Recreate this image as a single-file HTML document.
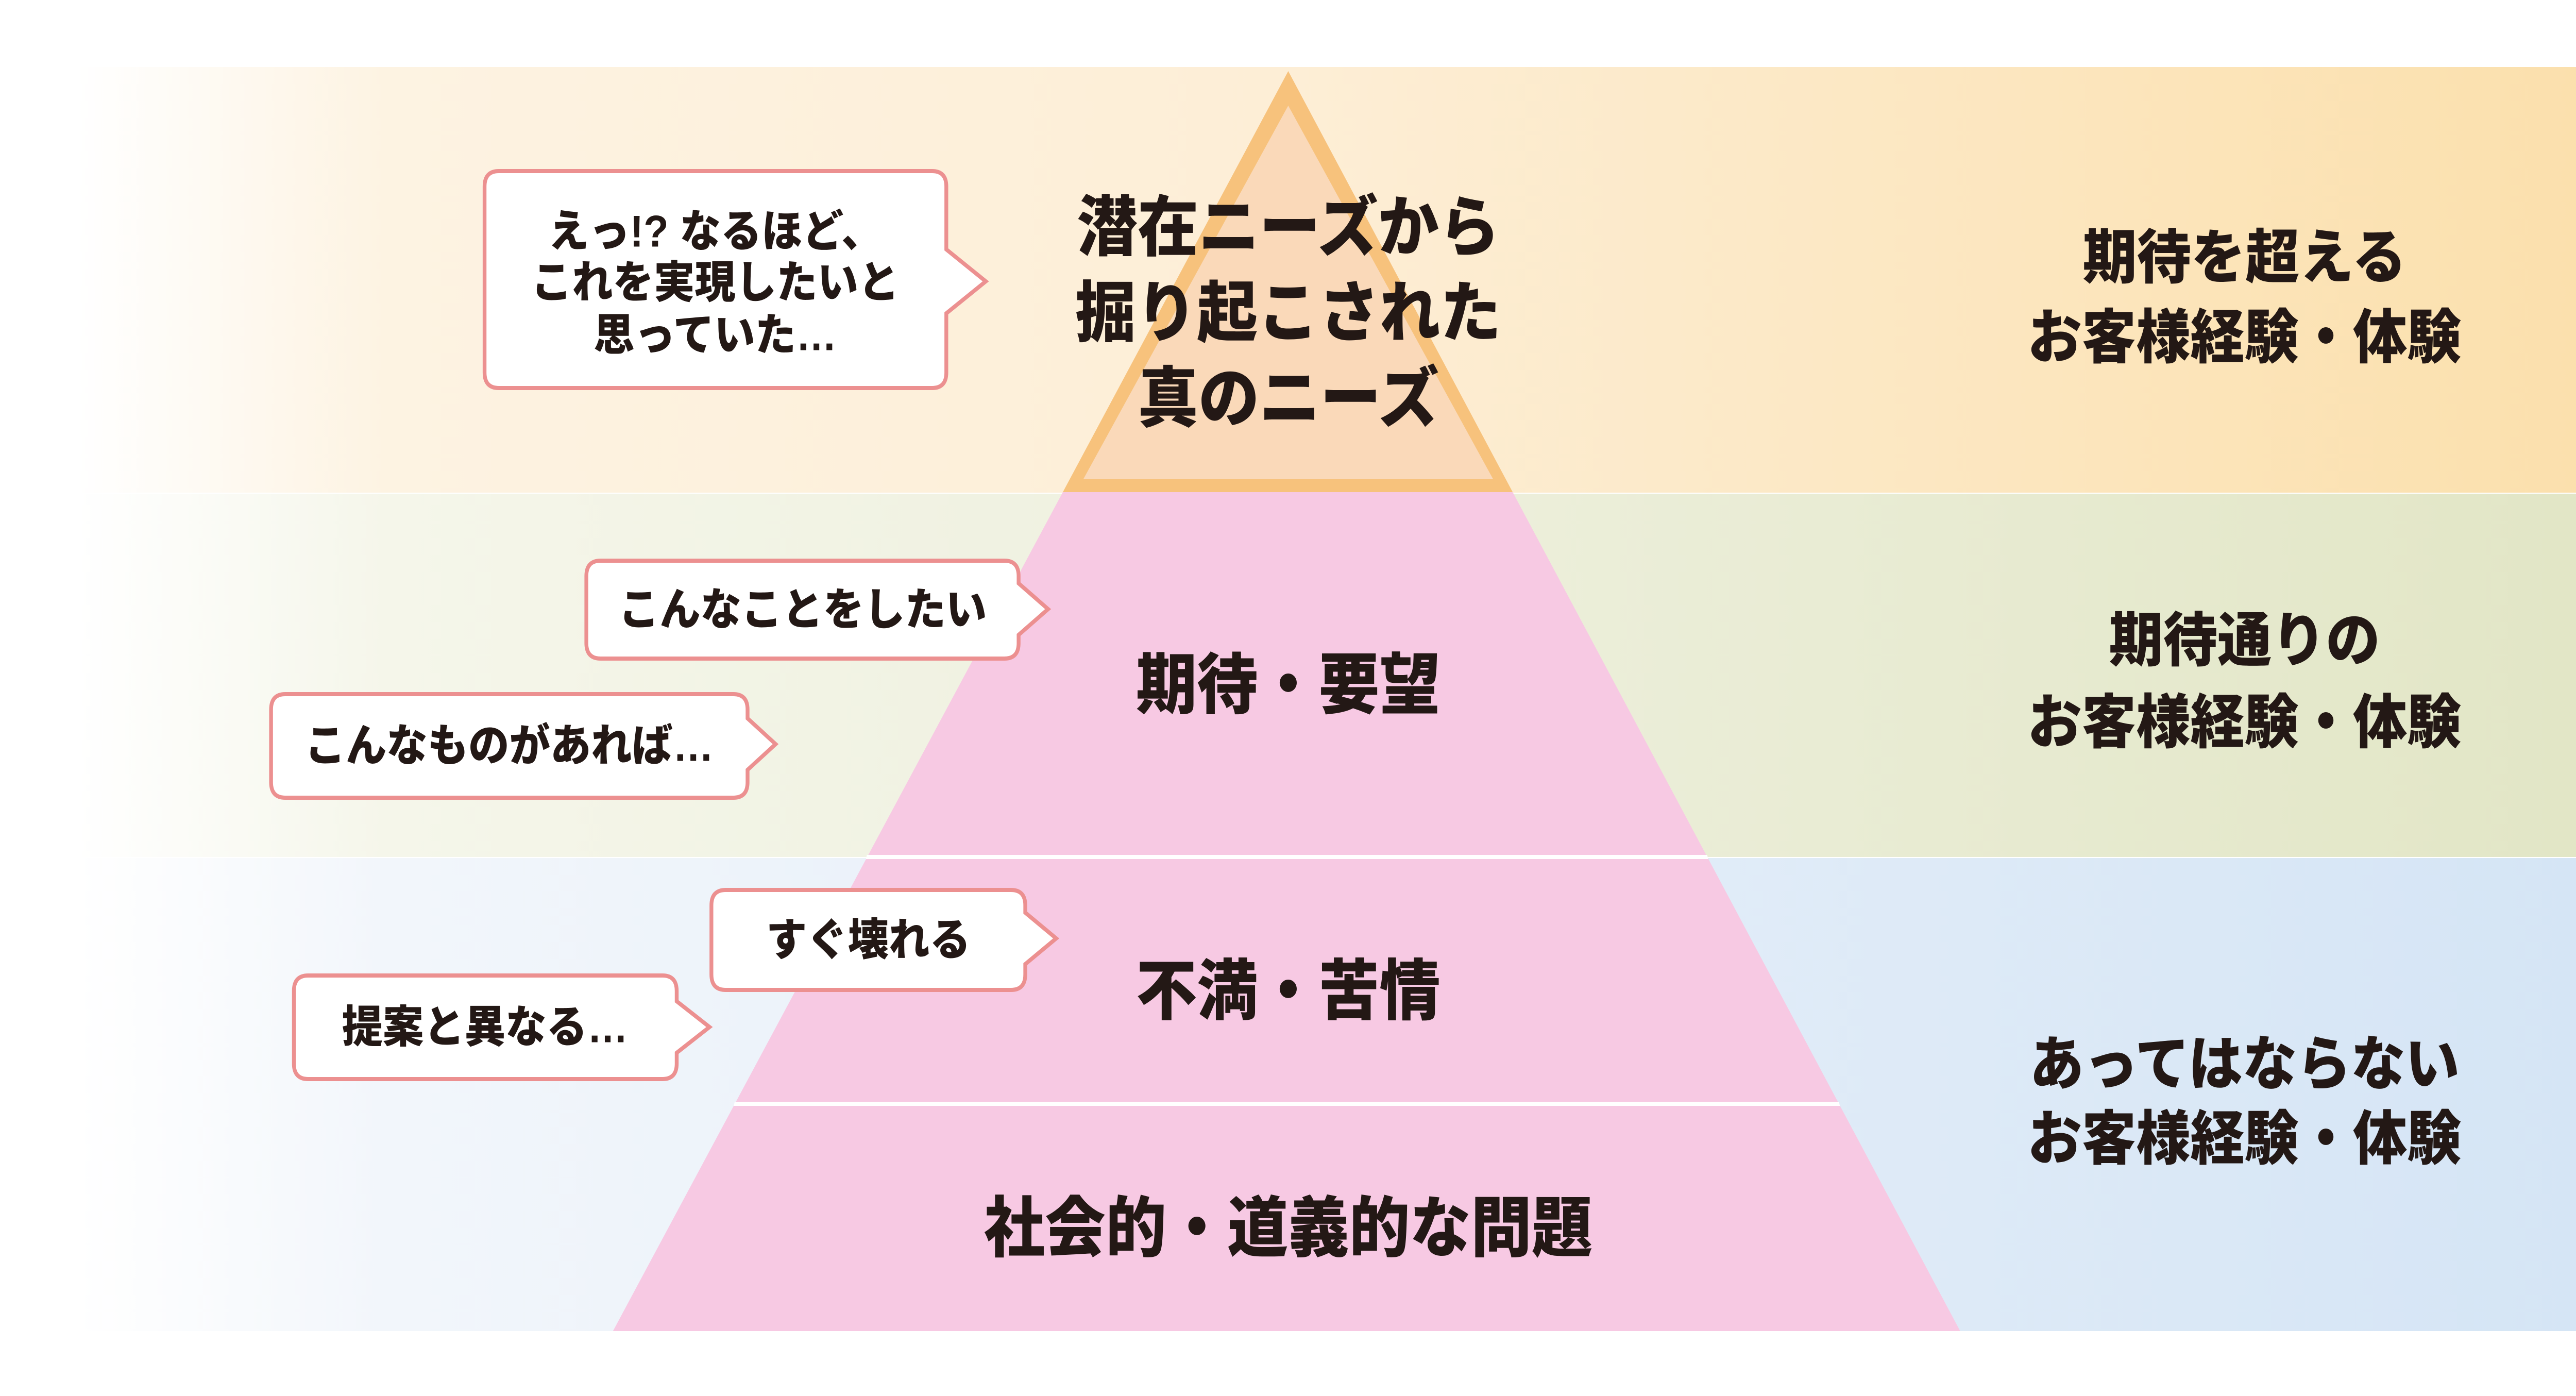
<!DOCTYPE html>
<html><head><meta charset="utf-8"><style>
html,body{margin:0;padding:0;background:#fff;overflow:hidden;width:100%;height:100%;}
svg{display:block;width:100vw;height:100vh;}
text{font-family:"Liberation Sans","Noto Sans CJK JP",sans-serif;font-weight:900;fill:#231815;}
</style></head><body>
<svg viewBox="0 0 5417 2709" preserveAspectRatio="none" xmlns="http://www.w3.org/2000/svg">
<defs>
<linearGradient id="g1" x1="0" x2="1" y1="0" y2="0">
<stop offset="0" stop-color="#ffffff"/><stop offset="0.03" stop-color="#ffffff"/><stop offset="0.15" stop-color="#fdf3e2"/><stop offset="0.5" stop-color="#fdeed6"/><stop offset="1" stop-color="#fbe0ad"/>
</linearGradient>
<linearGradient id="g2" x1="0" x2="1" y1="0" y2="0">
<stop offset="0" stop-color="#ffffff"/><stop offset="0.03" stop-color="#ffffff"/><stop offset="0.15" stop-color="#f5f6ea"/><stop offset="0.5" stop-color="#eef0de"/><stop offset="1" stop-color="#e2e6c6"/>
</linearGradient>
<linearGradient id="g3" x1="0" x2="1" y1="0" y2="0">
<stop offset="0" stop-color="#ffffff"/><stop offset="0.03" stop-color="#ffffff"/><stop offset="0.15" stop-color="#f2f6fb"/><stop offset="0.5" stop-color="#e6eff9"/><stop offset="1" stop-color="#d5e5f5"/>
</linearGradient>
</defs>
<rect x="0" y="0" width="5417" height="2709" fill="#fff"/>
<rect x="0" y="130" width="5417" height="826" fill="url(#g1)"/>
<rect x="0" y="958" width="5417" height="705" fill="url(#g2)"/>
<rect x="0" y="1665" width="5417" height="918" fill="url(#g3)"/>

<polygon points="2235,955 3181,955 4122,2583 1289,2583" fill="#f7c9e3"/>
<polygon points="2709,138 3181,955 2235,955" fill="#f7c27c"/>
<polygon points="2709,205 3140,930 2278,930" fill="#fad9b9"/>
<polygon points="1823,1659 3590,1659 3592,1667 1821,1667" fill="#fff"/>
<polygon points="1545,2138 3867,2138 3869,2146 1543,2146" fill="#fff"/>

<g fill="#fff" stroke="#ec9090" stroke-width="8" stroke-linejoin="miter">
<path d="M1049,332 H1960 Q1990,332 1990,362 V484 L2073,546 L1990,608 V723 Q1990,753 1960,753 H1049 Q1019,753 1019,723 V362 Q1019,332 1049,332Z"/>
<path d="M1263,1088 H2112 Q2142,1088 2142,1118 V1132 L2204,1182 L2142,1232 V1248 Q2142,1278 2112,1278 H1263 Q1233,1278 1233,1248 V1118 Q1233,1088 1263,1088Z"/>
<path d="M600,1347 H1542 Q1572,1347 1572,1377 V1394 L1631,1444 L1572,1494 V1518 Q1572,1548 1542,1548 H600 Q570,1548 570,1518 V1377 Q570,1347 600,1347Z"/>
<path d="M1526,1727 H2126 Q2156,1727 2156,1757 V1771 L2221,1821 L2156,1871 V1891 Q2156,1921 2126,1921 H1526 Q1496,1921 1496,1891 V1757 Q1496,1727 1526,1727Z"/>
<path d="M648,1893 H1393 Q1423,1893 1423,1923 V1943 L1492,1993 L1423,2043 V2064 Q1423,2094 1393,2094 H648 Q618,2094 618,2064 V1923 Q618,1893 648,1893Z"/>
</g>

<g text-anchor="middle" dominant-baseline="central" font-size="86">
<text x="1504" y="449">えっ!? なるほど、</text>
<text x="1504" y="548">これを実現したいと</text>
<text x="1504" y="650">思っていた…</text>
<text x="1688" y="1183">こんなことをしたい</text>
<text x="1071" y="1447">こんなものがあれば…</text>
<text x="1826" y="1824">すぐ壊れる</text>
<text x="1020" y="1993">提案と異なる…</text>
</g>

<g text-anchor="middle" dominant-baseline="central" font-size="128">
<text x="2709" y="442">潜在ニーズから</text>
<text x="2709" y="608">掘り起こされた</text>
<text x="2709" y="774">真のニーズ</text>
<text x="2709" y="1330">期待・要望</text>
<text x="2709" y="1924">不満・苦情</text>
<text x="2709" y="2384">社会的・道義的な問題</text>
</g>

<g text-anchor="middle" dominant-baseline="central" font-size="114">
<text x="4720" y="501">期待を超える</text>
<text x="4720" y="656">お客様経験・体験</text>
<text x="4720" y="1244">期待通りの</text>
<text x="4720" y="1403">お客様経験・体験</text>
<text x="4720" y="2066">あってはならない</text>
<text x="4720" y="2211">お客様経験・体験</text>
</g>
</svg>
</body></html>
